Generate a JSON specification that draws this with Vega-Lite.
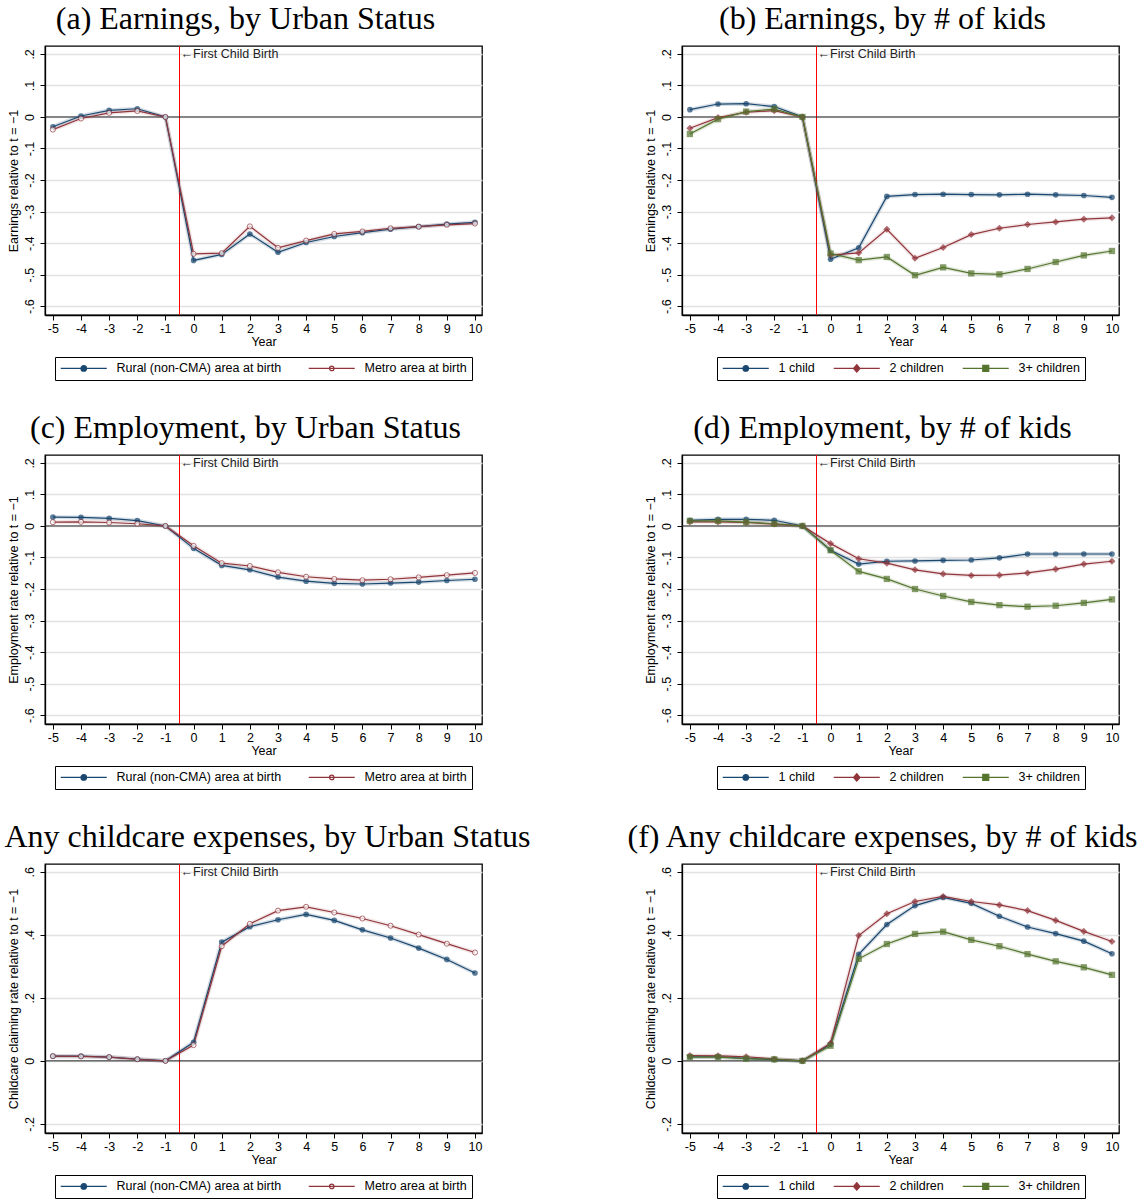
{
  "$schema": "https://vega.github.io/schema/vega-lite/v6.json",
  "background": "white",
  "padding": {"left": 3, "right": 5, "top": 1, "bottom": 2},
  "columns": 2,
  "bounds": "flush",
  "spacing": {"column": 200, "row": 140},
  "resolve": {"scale": {"color": "independent"}, "legend": {"color": "independent"}},
  "datasets": {
    "one": [{"k": 1}],
    "a": [
      {"s":"rural","t":-5,"v":-0.031},{"s":"rural","t":-4,"v":0.003},{"s":"rural","t":-3,"v":0.021},{"s":"rural","t":-2,"v":0.026},{"s":"rural","t":-1,"v":0},{"s":"rural","t":0,"v":-0.455},{"s":"rural","t":1,"v":-0.436},{"s":"rural","t":2,"v":-0.371},{"s":"rural","t":3,"v":-0.429},{"s":"rural","t":4,"v":-0.398},{"s":"rural","t":5,"v":-0.379},{"s":"rural","t":6,"v":-0.367},{"s":"rural","t":7,"v":-0.356},{"s":"rural","t":8,"v":-0.348},{"s":"rural","t":9,"v":-0.340},{"s":"rural","t":10,"v":-0.334},
      {"s":"metro","t":-5,"v":-0.040},{"s":"metro","t":-4,"v":-0.005},{"s":"metro","t":-3,"v":0.013},{"s":"metro","t":-2,"v":0.019},{"s":"metro","t":-1,"v":0},{"s":"metro","t":0,"v":-0.434},{"s":"metro","t":1,"v":-0.432},{"s":"metro","t":2,"v":-0.347},{"s":"metro","t":3,"v":-0.415},{"s":"metro","t":4,"v":-0.392},{"s":"metro","t":5,"v":-0.371},{"s":"metro","t":6,"v":-0.363},{"s":"metro","t":7,"v":-0.353},{"s":"metro","t":8,"v":-0.348},{"s":"metro","t":9,"v":-0.342},{"s":"metro","t":10,"v":-0.338}
    ],
    "b": [
      {"s":"k1","t":-5,"v":0.023},{"s":"k1","t":-4,"v":0.041},{"s":"k1","t":-3,"v":0.042},{"s":"k1","t":-2,"v":0.033},{"s":"k1","t":-1,"v":0},{"s":"k1","t":0,"v":-0.451},{"s":"k1","t":1,"v":-0.415},{"s":"k1","t":2,"v":-0.252},{"s":"k1","t":3,"v":-0.246},{"s":"k1","t":4,"v":-0.245},{"s":"k1","t":5,"v":-0.246},{"s":"k1","t":6,"v":-0.247},{"s":"k1","t":7,"v":-0.245},{"s":"k1","t":8,"v":-0.247},{"s":"k1","t":9,"v":-0.249},{"s":"k1","t":10,"v":-0.255},
      {"s":"k2","t":-5,"v":-0.036},{"s":"k2","t":-4,"v":-0.002},{"s":"k2","t":-3,"v":0.015},{"s":"k2","t":-2,"v":0.020},{"s":"k2","t":-1,"v":0},{"s":"k2","t":0,"v":-0.438},{"s":"k2","t":1,"v":-0.431},{"s":"k2","t":2,"v":-0.356},{"s":"k2","t":3,"v":-0.448},{"s":"k2","t":4,"v":-0.414},{"s":"k2","t":5,"v":-0.373},{"s":"k2","t":6,"v":-0.353},{"s":"k2","t":7,"v":-0.341},{"s":"k2","t":8,"v":-0.333},{"s":"k2","t":9,"v":-0.324},{"s":"k2","t":10,"v":-0.320},
      {"s":"k3","t":-5,"v":-0.054},{"s":"k3","t":-4,"v":-0.007},{"s":"k3","t":-3,"v":0.017},{"s":"k3","t":-2,"v":0.025},{"s":"k3","t":-1,"v":0},{"s":"k3","t":0,"v":-0.433},{"s":"k3","t":1,"v":-0.454},{"s":"k3","t":2,"v":-0.444},{"s":"k3","t":3,"v":-0.502},{"s":"k3","t":4,"v":-0.477},{"s":"k3","t":5,"v":-0.496},{"s":"k3","t":6,"v":-0.499},{"s":"k3","t":7,"v":-0.482},{"s":"k3","t":8,"v":-0.460},{"s":"k3","t":9,"v":-0.439},{"s":"k3","t":10,"v":-0.425}
    ],
    "c": [
      {"s":"rural","t":-5,"v":0.028},{"s":"rural","t":-4,"v":0.027},{"s":"rural","t":-3,"v":0.024},{"s":"rural","t":-2,"v":0.017},{"s":"rural","t":-1,"v":0},{"s":"rural","t":0,"v":-0.071},{"s":"rural","t":1,"v":-0.125},{"s":"rural","t":2,"v":-0.139},{"s":"rural","t":3,"v":-0.162},{"s":"rural","t":4,"v":-0.175},{"s":"rural","t":5,"v":-0.182},{"s":"rural","t":6,"v":-0.184},{"s":"rural","t":7,"v":-0.181},{"s":"rural","t":8,"v":-0.178},{"s":"rural","t":9,"v":-0.173},{"s":"rural","t":10,"v":-0.169},
      {"s":"metro","t":-5,"v":0.012},{"s":"metro","t":-4,"v":0.013},{"s":"metro","t":-3,"v":0.011},{"s":"metro","t":-2,"v":0.007},{"s":"metro","t":-1,"v":0},{"s":"metro","t":0,"v":-0.063},{"s":"metro","t":1,"v":-0.118},{"s":"metro","t":2,"v":-0.127},{"s":"metro","t":3,"v":-0.147},{"s":"metro","t":4,"v":-0.161},{"s":"metro","t":5,"v":-0.168},{"s":"metro","t":6,"v":-0.172},{"s":"metro","t":7,"v":-0.169},{"s":"metro","t":8,"v":-0.163},{"s":"metro","t":9,"v":-0.156},{"s":"metro","t":10,"v":-0.149}
    ],
    "d": [
      {"s":"k1","t":-5,"v":0.018},{"s":"k1","t":-4,"v":0.021},{"s":"k1","t":-3,"v":0.021},{"s":"k1","t":-2,"v":0.018},{"s":"k1","t":-1,"v":0},{"s":"k1","t":0,"v":-0.077},{"s":"k1","t":1,"v":-0.121},{"s":"k1","t":2,"v":-0.112},{"s":"k1","t":3,"v":-0.111},{"s":"k1","t":4,"v":-0.109},{"s":"k1","t":5,"v":-0.108},{"s":"k1","t":6,"v":-0.101},{"s":"k1","t":7,"v":-0.089},{"s":"k1","t":8,"v":-0.089},{"s":"k1","t":9,"v":-0.089},{"s":"k1","t":10,"v":-0.089},
      {"s":"k2","t":-5,"v":0.013},{"s":"k2","t":-4,"v":0.013},{"s":"k2","t":-3,"v":0.011},{"s":"k2","t":-2,"v":0.006},{"s":"k2","t":-1,"v":0},{"s":"k2","t":0,"v":-0.056},{"s":"k2","t":1,"v":-0.104},{"s":"k2","t":2,"v":-0.118},{"s":"k2","t":3,"v":-0.139},{"s":"k2","t":4,"v":-0.152},{"s":"k2","t":5,"v":-0.157},{"s":"k2","t":6,"v":-0.156},{"s":"k2","t":7,"v":-0.149},{"s":"k2","t":8,"v":-0.137},{"s":"k2","t":9,"v":-0.121},{"s":"k2","t":10,"v":-0.112},
      {"s":"k3","t":-5,"v":0.016},{"s":"k3","t":-4,"v":0.016},{"s":"k3","t":-3,"v":0.012},{"s":"k3","t":-2,"v":0.007},{"s":"k3","t":-1,"v":0},{"s":"k3","t":0,"v":-0.077},{"s":"k3","t":1,"v":-0.144},{"s":"k3","t":2,"v":-0.168},{"s":"k3","t":3,"v":-0.200},{"s":"k3","t":4,"v":-0.222},{"s":"k3","t":5,"v":-0.241},{"s":"k3","t":6,"v":-0.251},{"s":"k3","t":7,"v":-0.256},{"s":"k3","t":8,"v":-0.253},{"s":"k3","t":9,"v":-0.244},{"s":"k3","t":10,"v":-0.233}
    ],
    "e": [
      {"s":"rural","t":-5,"v":0.015},{"s":"rural","t":-4,"v":0.015},{"s":"rural","t":-3,"v":0.012},{"s":"rural","t":-2,"v":0.006},{"s":"rural","t":-1,"v":0},{"s":"rural","t":0,"v":0.059},{"s":"rural","t":1,"v":0.377},{"s":"rural","t":2,"v":0.426},{"s":"rural","t":3,"v":0.448},{"s":"rural","t":4,"v":0.465},{"s":"rural","t":5,"v":0.446},{"s":"rural","t":6,"v":0.416},{"s":"rural","t":7,"v":0.390},{"s":"rural","t":8,"v":0.358},{"s":"rural","t":9,"v":0.322},{"s":"rural","t":10,"v":0.279},
      {"s":"metro","t":-5,"v":0.015},{"s":"metro","t":-4,"v":0.014},{"s":"metro","t":-3,"v":0.012},{"s":"metro","t":-2,"v":0.005},{"s":"metro","t":-1,"v":0},{"s":"metro","t":0,"v":0.050},{"s":"metro","t":1,"v":0.364},{"s":"metro","t":2,"v":0.435},{"s":"metro","t":3,"v":0.477},{"s":"metro","t":4,"v":0.489},{"s":"metro","t":5,"v":0.471},{"s":"metro","t":6,"v":0.452},{"s":"metro","t":7,"v":0.429},{"s":"metro","t":8,"v":0.401},{"s":"metro","t":9,"v":0.372},{"s":"metro","t":10,"v":0.344}
    ],
    "f": [
      {"s":"k1","t":-5,"v":0.013},{"s":"k1","t":-4,"v":0.013},{"s":"k1","t":-3,"v":0.008},{"s":"k1","t":-2,"v":0.004},{"s":"k1","t":-1,"v":0},{"s":"k1","t":0,"v":0.053},{"s":"k1","t":1,"v":0.338},{"s":"k1","t":2,"v":0.433},{"s":"k1","t":3,"v":0.493},{"s":"k1","t":4,"v":0.519},{"s":"k1","t":5,"v":0.500},{"s":"k1","t":6,"v":0.459},{"s":"k1","t":7,"v":0.425},{"s":"k1","t":8,"v":0.404},{"s":"k1","t":9,"v":0.380},{"s":"k1","t":10,"v":0.340},
      {"s":"k2","t":-5,"v":0.017},{"s":"k2","t":-4,"v":0.016},{"s":"k2","t":-3,"v":0.013},{"s":"k2","t":-2,"v":0.006},{"s":"k2","t":-1,"v":0},{"s":"k2","t":0,"v":0.056},{"s":"k2","t":1,"v":0.398},{"s":"k2","t":2,"v":0.467},{"s":"k2","t":3,"v":0.506},{"s":"k2","t":4,"v":0.522},{"s":"k2","t":5,"v":0.506},{"s":"k2","t":6,"v":0.495},{"s":"k2","t":7,"v":0.477},{"s":"k2","t":8,"v":0.446},{"s":"k2","t":9,"v":0.411},{"s":"k2","t":10,"v":0.379},
      {"s":"k3","t":-5,"v":0.012},{"s":"k3","t":-4,"v":0.012},{"s":"k3","t":-3,"v":0.007},{"s":"k3","t":-2,"v":0.005},{"s":"k3","t":-1,"v":0},{"s":"k3","t":0,"v":0.048},{"s":"k3","t":1,"v":0.324},{"s":"k3","t":2,"v":0.371},{"s":"k3","t":3,"v":0.403},{"s":"k3","t":4,"v":0.410},{"s":"k3","t":5,"v":0.384},{"s":"k3","t":6,"v":0.364},{"s":"k3","t":7,"v":0.339},{"s":"k3","t":8,"v":0.316},{"s":"k3","t":9,"v":0.297},{"s":"k3","t":10,"v":0.273}
    ]
  },
  "concat": [
    {
      "title": {"text": "(a) Earnings, by Urban Status", "dx": -18},
      "width": 437, "height": 269,
      "data": {"name": "a"},
      "layer": [
        {"data": {"name": "one"}, "mark": {"type": "rule", "color": "#ff0000", "strokeWidth": 1}, "encoding": {"x": {"datum": -0.5}}},
        {"data": {"name": "one"}, "mark": {"type": "rule", "color": "#222222", "strokeWidth": 1}, "encoding": {"y": {"datum": 0}}},
        {"data": {"name": "one"}, "mark": {"type": "text", "align": "left", "baseline": "middle", "dx": 1, "font": "Liberation Sans", "fontSize": 12.5, "color": "#222222", "text": "←First Child Birth"}, "encoding": {"x": {"datum": -0.5}, "y": {"datum": 0.2}}},
        {"transform": [{"filter": "datum.s == 'rural'"}], "mark": {"type": "line", "strokeWidth": 4, "opacity": 0.18, "color": "#1a476f"}, "encoding": {"x": {"field": "t", "type": "quantitative"}, "y": {"field": "v", "type": "quantitative"}}},
        {"transform": [{"filter": "datum.s == 'metro'"}], "mark": {"type": "line", "strokeWidth": 4, "opacity": 0.12, "color": "#90353b"}, "encoding": {"x": {"field": "t", "type": "quantitative"}, "y": {"field": "v", "type": "quantitative"}}},
        {"mark": {"type": "line", "strokeWidth": 1.2}, "encoding": {
          "x": {"field": "t", "type": "quantitative", "scale": {"domain": [-5.28, 10.25], "nice": false, "zero": false}, "axis": {"title": "Year", "values": [-5,-4,-3,-2,-1,0,1,2,3,4,5,6,7,8,9,10], "tickCount": 30, "labelOverlap": false}},
          "y": {"field": "v", "type": "quantitative", "scale": {"domain": [-0.628, 0.225], "nice": false, "zero": false}, "axis": {"title": "Earnings relative to t = −1", "values": [-0.6,-0.5,-0.4,-0.3,-0.2,-0.1,0,0.1,0.2], "tickCount": 30, "labelOverlap": false}},
          "color": {"field": "s", "type": "nominal", "scale": {"domain": ["rural", "metro"], "range": ["#1a476f", "#90353b"]},
            "legend": {"title": null, "labelExpr": "datum.value == 'rural' ? 'Rural (non-CMA) area at birth' : 'Metro area at birth'",
              "encode": {"symbols": {"update": {
                "shape": {"signal": "datum.value == 'rural' ? 'M-1.1,0H8.1M2.95,0A0.55,0.55,0,1,0,4.05,0A0.55,0.55,0,1,0,2.95,0Z' : 'M-1.1,0H8.1M3.05,0A0.45,0.45,0,1,0,3.95,0A0.45,0.45,0,1,0,3.05,0Z'"},
                "fill": {"signal": "datum.value == 'rural' ? '#1a476f' : '#ffffff'"},
                "stroke": {"signal": "datum.value == 'rural' ? '#1a476f' : '#90353b'"}}}}}}}},
        {"transform": [{"filter": "datum.s == 'rural'"}], "mark": {"type": "point", "shape": "circle", "filled": true, "size": 32, "color": "#1a476f"}, "encoding": {"x": {"field": "t", "type": "quantitative"}, "y": {"field": "v", "type": "quantitative"}}},
        {"transform": [{"filter": "datum.s == 'metro'"}], "mark": {"type": "point", "shape": "circle", "filled": true, "size": 26, "fill": "#ffffff", "stroke": "#90353b", "strokeWidth": 1}, "encoding": {"x": {"field": "t", "type": "quantitative"}, "y": {"field": "v", "type": "quantitative"}}}
      ]
    },
    {
      "title": {"text": "(b) Earnings, by # of kids", "dx": -18},
      "width": 437, "height": 269,
      "data": {"name": "b"},
      "layer": [
        {"data": {"name": "one"}, "mark": {"type": "rule", "color": "#ff0000", "strokeWidth": 1}, "encoding": {"x": {"datum": -0.5}}},
        {"data": {"name": "one"}, "mark": {"type": "rule", "color": "#222222", "strokeWidth": 1}, "encoding": {"y": {"datum": 0}}},
        {"data": {"name": "one"}, "mark": {"type": "text", "align": "left", "baseline": "middle", "dx": 1, "font": "Liberation Sans", "fontSize": 12.5, "color": "#222222", "text": "←First Child Birth"}, "encoding": {"x": {"datum": -0.5}, "y": {"datum": 0.2}}},
        {"transform": [{"filter": "datum.s == 'k1'"}], "mark": {"type": "line", "strokeWidth": 4, "opacity": 0.18, "color": "#1a476f"}, "encoding": {"x": {"field": "t", "type": "quantitative"}, "y": {"field": "v", "type": "quantitative"}}},
        {"transform": [{"filter": "datum.s == 'k2'"}], "mark": {"type": "line", "strokeWidth": 4, "opacity": 0.12, "color": "#90353b"}, "encoding": {"x": {"field": "t", "type": "quantitative"}, "y": {"field": "v", "type": "quantitative"}}},
        {"transform": [{"filter": "datum.s == 'k3'"}], "mark": {"type": "line", "strokeWidth": 4, "opacity": 0.18, "color": "#55752f"}, "encoding": {"x": {"field": "t", "type": "quantitative"}, "y": {"field": "v", "type": "quantitative"}}},
        {"mark": {"type": "line", "strokeWidth": 1.2}, "encoding": {
          "x": {"field": "t", "type": "quantitative", "scale": {"domain": [-5.28, 10.25], "nice": false, "zero": false}, "axis": {"title": "Year", "values": [-5,-4,-3,-2,-1,0,1,2,3,4,5,6,7,8,9,10], "tickCount": 30, "labelOverlap": false}},
          "y": {"field": "v", "type": "quantitative", "scale": {"domain": [-0.628, 0.225], "nice": false, "zero": false}, "axis": {"title": "Earnings relative to t = −1", "values": [-0.6,-0.5,-0.4,-0.3,-0.2,-0.1,0,0.1,0.2], "tickCount": 30, "labelOverlap": false}},
          "color": {"field": "s", "type": "nominal", "scale": {"domain": ["k1", "k2", "k3"], "range": ["#1a476f", "#90353b", "#55752f"]},
            "legend": {"title": null, "columnPadding": 16, "labelExpr": "datum.value == 'k1' ? '1 child' : datum.value == 'k2' ? '2 children' : '3+ children'",
              "encode": {"symbols": {"update": {
                "shape": {"signal": "datum.value == 'k1' ? 'M-1.1,0H8.1M2.95,0A0.55,0.55,0,1,0,4.05,0A0.55,0.55,0,1,0,2.95,0Z' : datum.value == 'k2' ? 'M-1.1,0H8.1M3.5,-0.75L4.15,0L3.5,0.75L2.85,0Z' : 'M-1.1,0H8.1M2.9,-0.6H4.1V0.6H2.9Z'"},
                "fill": {"signal": "datum.value == 'k1' ? '#1a476f' : datum.value == 'k2' ? '#90353b' : '#55752f'"},
                "stroke": {"signal": "datum.value == 'k1' ? '#1a476f' : datum.value == 'k2' ? '#90353b' : '#55752f'"}}}}}}}},
        {"transform": [{"filter": "datum.s == 'k1'"}], "mark": {"type": "point", "shape": "circle", "filled": true, "size": 32, "color": "#1a476f"}, "encoding": {"x": {"field": "t", "type": "quantitative"}, "y": {"field": "v", "type": "quantitative"}}},
        {"transform": [{"filter": "datum.s == 'k2'"}], "mark": {"type": "point", "shape": "diamond", "filled": true, "size": 50, "color": "#90353b"}, "encoding": {"x": {"field": "t", "type": "quantitative"}, "y": {"field": "v", "type": "quantitative"}}},
        {"transform": [{"filter": "datum.s == 'k3'"}], "mark": {"type": "point", "shape": "square", "filled": true, "size": 40, "color": "#55752f"}, "encoding": {"x": {"field": "t", "type": "quantitative"}, "y": {"field": "v", "type": "quantitative"}}}
      ]
    },
    {
      "title": {"text": "(c) Employment, by Urban Status", "dx": -18},
      "width": 437, "height": 269,
      "data": {"name": "c"},
      "layer": [
        {"data": {"name": "one"}, "mark": {"type": "rule", "color": "#ff0000", "strokeWidth": 1}, "encoding": {"x": {"datum": -0.5}}},
        {"data": {"name": "one"}, "mark": {"type": "rule", "color": "#222222", "strokeWidth": 1}, "encoding": {"y": {"datum": 0}}},
        {"data": {"name": "one"}, "mark": {"type": "text", "align": "left", "baseline": "middle", "dx": 1, "font": "Liberation Sans", "fontSize": 12.5, "color": "#222222", "text": "←First Child Birth"}, "encoding": {"x": {"datum": -0.5}, "y": {"datum": 0.2}}},
        {"transform": [{"filter": "datum.s == 'rural'"}], "mark": {"type": "line", "strokeWidth": 4, "opacity": 0.18, "color": "#1a476f"}, "encoding": {"x": {"field": "t", "type": "quantitative"}, "y": {"field": "v", "type": "quantitative"}}},
        {"transform": [{"filter": "datum.s == 'metro'"}], "mark": {"type": "line", "strokeWidth": 4, "opacity": 0.12, "color": "#90353b"}, "encoding": {"x": {"field": "t", "type": "quantitative"}, "y": {"field": "v", "type": "quantitative"}}},
        {"mark": {"type": "line", "strokeWidth": 1.2}, "encoding": {
          "x": {"field": "t", "type": "quantitative", "scale": {"domain": [-5.28, 10.25], "nice": false, "zero": false}, "axis": {"title": "Year", "values": [-5,-4,-3,-2,-1,0,1,2,3,4,5,6,7,8,9,10], "tickCount": 30, "labelOverlap": false}},
          "y": {"field": "v", "type": "quantitative", "scale": {"domain": [-0.628, 0.225], "nice": false, "zero": false}, "axis": {"title": "Employment rate relative to t = −1", "values": [-0.6,-0.5,-0.4,-0.3,-0.2,-0.1,0,0.1,0.2], "tickCount": 30, "labelOverlap": false}},
          "color": {"field": "s", "type": "nominal", "scale": {"domain": ["rural", "metro"], "range": ["#1a476f", "#90353b"]},
            "legend": {"title": null, "labelExpr": "datum.value == 'rural' ? 'Rural (non-CMA) area at birth' : 'Metro area at birth'",
              "encode": {"symbols": {"update": {
                "shape": {"signal": "datum.value == 'rural' ? 'M-1.1,0H8.1M2.95,0A0.55,0.55,0,1,0,4.05,0A0.55,0.55,0,1,0,2.95,0Z' : 'M-1.1,0H8.1M3.05,0A0.45,0.45,0,1,0,3.95,0A0.45,0.45,0,1,0,3.05,0Z'"},
                "fill": {"signal": "datum.value == 'rural' ? '#1a476f' : '#ffffff'"},
                "stroke": {"signal": "datum.value == 'rural' ? '#1a476f' : '#90353b'"}}}}}}}},
        {"transform": [{"filter": "datum.s == 'rural'"}], "mark": {"type": "point", "shape": "circle", "filled": true, "size": 32, "color": "#1a476f"}, "encoding": {"x": {"field": "t", "type": "quantitative"}, "y": {"field": "v", "type": "quantitative"}}},
        {"transform": [{"filter": "datum.s == 'metro'"}], "mark": {"type": "point", "shape": "circle", "filled": true, "size": 26, "fill": "#ffffff", "stroke": "#90353b", "strokeWidth": 1}, "encoding": {"x": {"field": "t", "type": "quantitative"}, "y": {"field": "v", "type": "quantitative"}}}
      ]
    },
    {
      "title": {"text": "(d) Employment, by # of kids", "dx": -18},
      "width": 437, "height": 269,
      "data": {"name": "d"},
      "layer": [
        {"data": {"name": "one"}, "mark": {"type": "rule", "color": "#ff0000", "strokeWidth": 1}, "encoding": {"x": {"datum": -0.5}}},
        {"data": {"name": "one"}, "mark": {"type": "rule", "color": "#222222", "strokeWidth": 1}, "encoding": {"y": {"datum": 0}}},
        {"data": {"name": "one"}, "mark": {"type": "text", "align": "left", "baseline": "middle", "dx": 1, "font": "Liberation Sans", "fontSize": 12.5, "color": "#222222", "text": "←First Child Birth"}, "encoding": {"x": {"datum": -0.5}, "y": {"datum": 0.2}}},
        {"transform": [{"filter": "datum.s == 'k1'"}], "mark": {"type": "line", "strokeWidth": 4, "opacity": 0.18, "color": "#1a476f"}, "encoding": {"x": {"field": "t", "type": "quantitative"}, "y": {"field": "v", "type": "quantitative"}}},
        {"transform": [{"filter": "datum.s == 'k2'"}], "mark": {"type": "line", "strokeWidth": 4, "opacity": 0.12, "color": "#90353b"}, "encoding": {"x": {"field": "t", "type": "quantitative"}, "y": {"field": "v", "type": "quantitative"}}},
        {"transform": [{"filter": "datum.s == 'k3'"}], "mark": {"type": "line", "strokeWidth": 4, "opacity": 0.18, "color": "#55752f"}, "encoding": {"x": {"field": "t", "type": "quantitative"}, "y": {"field": "v", "type": "quantitative"}}},
        {"mark": {"type": "line", "strokeWidth": 1.2}, "encoding": {
          "x": {"field": "t", "type": "quantitative", "scale": {"domain": [-5.28, 10.25], "nice": false, "zero": false}, "axis": {"title": "Year", "values": [-5,-4,-3,-2,-1,0,1,2,3,4,5,6,7,8,9,10], "tickCount": 30, "labelOverlap": false}},
          "y": {"field": "v", "type": "quantitative", "scale": {"domain": [-0.628, 0.225], "nice": false, "zero": false}, "axis": {"title": "Employment rate relative to t = −1", "values": [-0.6,-0.5,-0.4,-0.3,-0.2,-0.1,0,0.1,0.2], "tickCount": 30, "labelOverlap": false}},
          "color": {"field": "s", "type": "nominal", "scale": {"domain": ["k1", "k2", "k3"], "range": ["#1a476f", "#90353b", "#55752f"]},
            "legend": {"title": null, "columnPadding": 16, "labelExpr": "datum.value == 'k1' ? '1 child' : datum.value == 'k2' ? '2 children' : '3+ children'",
              "encode": {"symbols": {"update": {
                "shape": {"signal": "datum.value == 'k1' ? 'M-1.1,0H8.1M2.95,0A0.55,0.55,0,1,0,4.05,0A0.55,0.55,0,1,0,2.95,0Z' : datum.value == 'k2' ? 'M-1.1,0H8.1M3.5,-0.75L4.15,0L3.5,0.75L2.85,0Z' : 'M-1.1,0H8.1M2.9,-0.6H4.1V0.6H2.9Z'"},
                "fill": {"signal": "datum.value == 'k1' ? '#1a476f' : datum.value == 'k2' ? '#90353b' : '#55752f'"},
                "stroke": {"signal": "datum.value == 'k1' ? '#1a476f' : datum.value == 'k2' ? '#90353b' : '#55752f'"}}}}}}}},
        {"transform": [{"filter": "datum.s == 'k1'"}], "mark": {"type": "point", "shape": "circle", "filled": true, "size": 32, "color": "#1a476f"}, "encoding": {"x": {"field": "t", "type": "quantitative"}, "y": {"field": "v", "type": "quantitative"}}},
        {"transform": [{"filter": "datum.s == 'k2'"}], "mark": {"type": "point", "shape": "diamond", "filled": true, "size": 50, "color": "#90353b"}, "encoding": {"x": {"field": "t", "type": "quantitative"}, "y": {"field": "v", "type": "quantitative"}}},
        {"transform": [{"filter": "datum.s == 'k3'"}], "mark": {"type": "point", "shape": "square", "filled": true, "size": 40, "color": "#55752f"}, "encoding": {"x": {"field": "t", "type": "quantitative"}, "y": {"field": "v", "type": "quantitative"}}}
      ]
    },
    {
      "title": {"text": "Any childcare expenses, by Urban Status", "dx": 4},
      "width": 437, "height": 269,
      "data": {"name": "e"},
      "layer": [
        {"data": {"name": "one"}, "mark": {"type": "rule", "color": "#ff0000", "strokeWidth": 1}, "encoding": {"x": {"datum": -0.5}}},
        {"data": {"name": "one"}, "mark": {"type": "rule", "color": "#222222", "strokeWidth": 1}, "encoding": {"y": {"datum": 0}}},
        {"data": {"name": "one"}, "mark": {"type": "text", "align": "left", "baseline": "middle", "dx": 1, "font": "Liberation Sans", "fontSize": 12.5, "color": "#222222", "text": "←First Child Birth"}, "encoding": {"x": {"datum": -0.5}, "y": {"datum": 0.6}}},
        {"transform": [{"filter": "datum.s == 'rural'"}], "mark": {"type": "line", "strokeWidth": 4, "opacity": 0.18, "color": "#1a476f"}, "encoding": {"x": {"field": "t", "type": "quantitative"}, "y": {"field": "v", "type": "quantitative"}}},
        {"transform": [{"filter": "datum.s == 'metro'"}], "mark": {"type": "line", "strokeWidth": 4, "opacity": 0.12, "color": "#90353b"}, "encoding": {"x": {"field": "t", "type": "quantitative"}, "y": {"field": "v", "type": "quantitative"}}},
        {"mark": {"type": "line", "strokeWidth": 1.2}, "encoding": {
          "x": {"field": "t", "type": "quantitative", "scale": {"domain": [-5.28, 10.25], "nice": false, "zero": false}, "axis": {"title": "Year", "values": [-5,-4,-3,-2,-1,0,1,2,3,4,5,6,7,8,9,10], "tickCount": 30, "labelOverlap": false}},
          "y": {"field": "v", "type": "quantitative", "scale": {"domain": [-0.229, 0.625], "nice": false, "zero": false}, "axis": {"title": "Childcare claiming rate relative to t = −1", "values": [-0.2,0,0.2,0.4,0.6], "tickCount": 30, "labelOverlap": false}},
          "color": {"field": "s", "type": "nominal", "scale": {"domain": ["rural", "metro"], "range": ["#1a476f", "#90353b"]},
            "legend": {"title": null, "labelExpr": "datum.value == 'rural' ? 'Rural (non-CMA) area at birth' : 'Metro area at birth'",
              "encode": {"symbols": {"update": {
                "shape": {"signal": "datum.value == 'rural' ? 'M-1.1,0H8.1M2.95,0A0.55,0.55,0,1,0,4.05,0A0.55,0.55,0,1,0,2.95,0Z' : 'M-1.1,0H8.1M3.05,0A0.45,0.45,0,1,0,3.95,0A0.45,0.45,0,1,0,3.05,0Z'"},
                "fill": {"signal": "datum.value == 'rural' ? '#1a476f' : '#ffffff'"},
                "stroke": {"signal": "datum.value == 'rural' ? '#1a476f' : '#90353b'"}}}}}}}},
        {"transform": [{"filter": "datum.s == 'rural'"}], "mark": {"type": "point", "shape": "circle", "filled": true, "size": 32, "color": "#1a476f"}, "encoding": {"x": {"field": "t", "type": "quantitative"}, "y": {"field": "v", "type": "quantitative"}}},
        {"transform": [{"filter": "datum.s == 'metro'"}], "mark": {"type": "point", "shape": "circle", "filled": true, "size": 26, "fill": "#ffffff", "stroke": "#90353b", "strokeWidth": 1}, "encoding": {"x": {"field": "t", "type": "quantitative"}, "y": {"field": "v", "type": "quantitative"}}}
      ]
    },
    {
      "title": {"text": "(f) Any childcare expenses, by # of kids", "dx": -18},
      "width": 437, "height": 269,
      "data": {"name": "f"},
      "layer": [
        {"data": {"name": "one"}, "mark": {"type": "rule", "color": "#ff0000", "strokeWidth": 1}, "encoding": {"x": {"datum": -0.5}}},
        {"data": {"name": "one"}, "mark": {"type": "rule", "color": "#222222", "strokeWidth": 1}, "encoding": {"y": {"datum": 0}}},
        {"data": {"name": "one"}, "mark": {"type": "text", "align": "left", "baseline": "middle", "dx": 1, "font": "Liberation Sans", "fontSize": 12.5, "color": "#222222", "text": "←First Child Birth"}, "encoding": {"x": {"datum": -0.5}, "y": {"datum": 0.6}}},
        {"transform": [{"filter": "datum.s == 'k1'"}], "mark": {"type": "line", "strokeWidth": 4, "opacity": 0.18, "color": "#1a476f"}, "encoding": {"x": {"field": "t", "type": "quantitative"}, "y": {"field": "v", "type": "quantitative"}}},
        {"transform": [{"filter": "datum.s == 'k2'"}], "mark": {"type": "line", "strokeWidth": 4, "opacity": 0.12, "color": "#90353b"}, "encoding": {"x": {"field": "t", "type": "quantitative"}, "y": {"field": "v", "type": "quantitative"}}},
        {"transform": [{"filter": "datum.s == 'k3'"}], "mark": {"type": "line", "strokeWidth": 4, "opacity": 0.18, "color": "#55752f"}, "encoding": {"x": {"field": "t", "type": "quantitative"}, "y": {"field": "v", "type": "quantitative"}}},
        {"mark": {"type": "line", "strokeWidth": 1.2}, "encoding": {
          "x": {"field": "t", "type": "quantitative", "scale": {"domain": [-5.28, 10.25], "nice": false, "zero": false}, "axis": {"title": "Year", "values": [-5,-4,-3,-2,-1,0,1,2,3,4,5,6,7,8,9,10], "tickCount": 30, "labelOverlap": false}},
          "y": {"field": "v", "type": "quantitative", "scale": {"domain": [-0.229, 0.625], "nice": false, "zero": false}, "axis": {"title": "Childcare claiming rate relative to t = −1", "values": [-0.2,0,0.2,0.4,0.6], "tickCount": 30, "labelOverlap": false}},
          "color": {"field": "s", "type": "nominal", "scale": {"domain": ["k1", "k2", "k3"], "range": ["#1a476f", "#90353b", "#55752f"]},
            "legend": {"title": null, "columnPadding": 16, "labelExpr": "datum.value == 'k1' ? '1 child' : datum.value == 'k2' ? '2 children' : '3+ children'",
              "encode": {"symbols": {"update": {
                "shape": {"signal": "datum.value == 'k1' ? 'M-1.1,0H8.1M2.95,0A0.55,0.55,0,1,0,4.05,0A0.55,0.55,0,1,0,2.95,0Z' : datum.value == 'k2' ? 'M-1.1,0H8.1M3.5,-0.75L4.15,0L3.5,0.75L2.85,0Z' : 'M-1.1,0H8.1M2.9,-0.6H4.1V0.6H2.9Z'"},
                "fill": {"signal": "datum.value == 'k1' ? '#1a476f' : datum.value == 'k2' ? '#90353b' : '#55752f'"},
                "stroke": {"signal": "datum.value == 'k1' ? '#1a476f' : datum.value == 'k2' ? '#90353b' : '#55752f'"}}}}}}}},
        {"transform": [{"filter": "datum.s == 'k1'"}], "mark": {"type": "point", "shape": "circle", "filled": true, "size": 32, "color": "#1a476f"}, "encoding": {"x": {"field": "t", "type": "quantitative"}, "y": {"field": "v", "type": "quantitative"}}},
        {"transform": [{"filter": "datum.s == 'k2'"}], "mark": {"type": "point", "shape": "diamond", "filled": true, "size": 50, "color": "#90353b"}, "encoding": {"x": {"field": "t", "type": "quantitative"}, "y": {"field": "v", "type": "quantitative"}}},
        {"transform": [{"filter": "datum.s == 'k3'"}], "mark": {"type": "point", "shape": "square", "filled": true, "size": 40, "color": "#55752f"}, "encoding": {"x": {"field": "t", "type": "quantitative"}, "y": {"field": "v", "type": "quantitative"}}}
      ]
    }
  ],
  "config": {
    "view": {"stroke": "#000000", "strokeWidth": 1.3},
    "font": "Liberation Sans",
    "title": {"font": "Liberation Serif", "fontSize": 32, "fontWeight": "normal", "color": "#000000", "anchor": "middle", "offset": 10},
    "axis": {"labelFont": "Liberation Sans", "labelFontSize": 12.5, "labelColor": "#000000", "titleFont": "Liberation Sans", "titleFontSize": 12.5, "titleFontWeight": "normal", "titleColor": "#000000", "domainColor": "#000000", "domainWidth": 1.3, "tickColor": "#000000", "tickSize": 5, "tickWidth": 1, "labelPadding": 2, "labelOverlap": false, "labelFlush": false, "tickCount": 30},
    "axisX": {"grid": false, "titlePadding": 1, "labelExpr": "(datum.value < 0 ? '-' : '') + abs(datum.value)"},
    "axisY": {"grid": true, "gridColor": "#e2e2e2", "gridWidth": 1.5, "labelAngle": -90, "labelAlign": "center", "labelBaseline": "bottom", "labelPadding": 4, "titlePadding": 3,
      "labelExpr": "datum.value == 0 ? '0' : (datum.value < 0 ? '-' : '') + replace(format(abs(datum.value), '.1f'), '0.', '.')"},
    "legend": {"orient": "bottom", "direction": "horizontal", "strokeColor": "#000000", "fillColor": "#ffffff", "padding": 5, "offset": 9, "labelFont": "Liberation Sans", "labelFontSize": 12.5, "labelColor": "#000000", "labelLimit": 400, "symbolSize": 100, "symbolStrokeWidth": 1.2, "columnPadding": 24, "labelOffset": 44, "layout": {"bottom": {"anchor": "middle"}}}
  }
}
